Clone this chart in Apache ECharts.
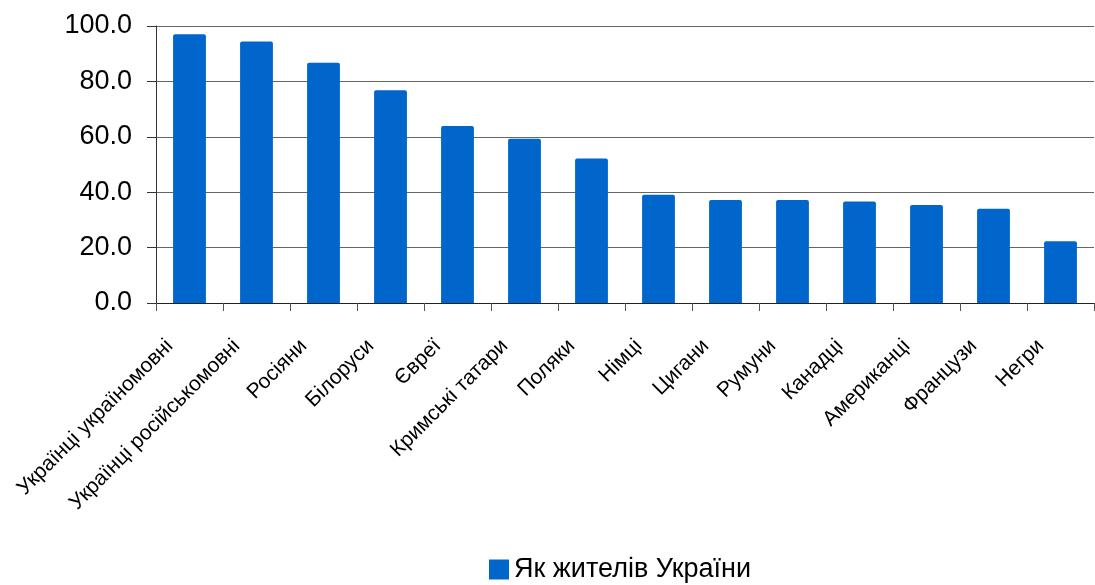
<!DOCTYPE html>
<html>
<head>
<meta charset="utf-8">
<script src="https://cdn.jsdelivr.net/npm/echarts@6/dist/echarts.min.js"></script>
<style>
html,body{margin:0;padding:0;background:#fff;}
#c{width:1095px;height:585px;}
</style>
</head>
<body>
<div id="c"></div>
<script>
const categories = ["Українці україномовні","Українці російськомовні","Росіяни","Білоруси","Євреї","Кримські татари","Поляки","Німці","Цигани","Румуни","Канадці","Американці","Французи","Негри"];
const values = [97.0, 94.4, 86.7, 76.8, 63.9, 59.3, 52.2, 39.1, 37.2, 37.2, 36.6, 35.4, 34.0, 22.3];
const seriesName = "Як жителів України";
const yTicks = [0, 20, 40, 60, 80, 100];

const chart = echarts.init(document.getElementById('c'));
chart.setOption({
  backgroundColor: '#ffffff',
  animation: false,
  textStyle: { fontFamily: 'Liberation Sans, Arial, sans-serif' },
  grid: { left: 156, right: 1, top: 26, bottom: 282, containLabel: false },
  legend: {
    data: [seriesName],
    left: 484, top: 551,
    itemWidth: 20, itemHeight: 20, itemGap: 6,
    icon: 'rect',
    textStyle: { fontSize: 27, color: '#000', fontFamily: 'Liberation Sans, Arial, sans-serif' }
  },
  xAxis: {
    type: 'category',
    data: categories,
    axisLine: { lineStyle: { color: '#222', width: 1 } },
    axisTick: { show: true, alignWithLabel: false, length: 8, lineStyle: { color: '#555' } },
    axisLabel: { interval: 0, rotate: 45, fontSize: 21, color: '#000', margin: 20, padding: [0, 28, 0, 0] },
    splitLine: { show: false }
  },
  yAxis: {
    type: 'value',
    min: yTicks[0], max: yTicks[yTicks.length - 1], interval: 20,
    axisLine: { show: true, lineStyle: { color: '#333', width: 1 } },
    axisTick: { show: true, length: 9, lineStyle: { color: '#333' } },
    axisLabel: { fontSize: 27, color: '#000', margin: 24, formatter: v => v.toFixed(1) },
    splitLine: { show: true, lineStyle: { color: '#666', width: 1 } }
  },
  series: [{
    name: seriesName,
    type: 'bar',
    data: values,
    barWidth: '49%',
    itemStyle: { color: '#0066CC', borderRadius: [2, 2, 0, 0] }
  }]
});
</script>
</body>
</html>
